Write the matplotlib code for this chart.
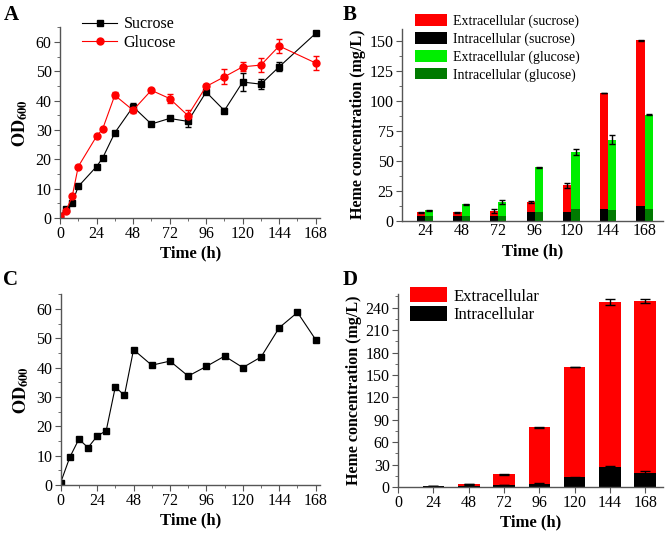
import numpy as np
import matplotlib.pyplot as plt
from matplotlib.ticker import MultipleLocator

plt.rcParams['font.family'] = ['Liberation Serif', 'DejaVu Serif']
plt.rcParams['mathtext.fontset'] = 'stix'
plt.rcParams['font.size'] = 11.5

# panel A: OD600, sucrose vs glucose
t_a = [0, 4, 8, 12, 24, 28, 36, 48, 60, 72, 84, 96, 108, 120, 132, 144, 168]
od_suc = [0.5, 3.1, 5.1, 10.7, 17.5, 20.4, 29.0, 37.9, 32.0, 33.9, 32.9, 42.9, 36.6, 46.3, 45.6, 51.5, 62.9]
od_suc_err = [0, 0.5, 0.5, 0.5, 0.5, 0.5, 0.5, 1.2, 0.8, 0.6, 2.0, 0.6, 0.8, 3.0, 1.8, 1.5, 0.5]
od_glc = [0.5, 2.5, 7.3, 17.5, 27.8, 30.3, 41.8, 36.7, 43.5, 40.7, 34.9, 44.8, 48.1, 51.5, 52.1, 58.6, 52.8]
od_glc_err = [0, 0.3, 0.5, 0.5, 0.5, 0.5, 1.0, 0.8, 0.5, 1.5, 2.0, 1.0, 2.5, 1.5, 2.5, 2.3, 2.5]

# panel B: heme, sucrose vs glucose
t_b = [24, 48, 72, 96, 120, 144, 168]
suc_total = [7.0, 7.0, 8.0, 15.5, 29.5, 106.5, 150.5]
suc_total_err = [0.5, 0.5, 1.5, 0.5, 2.0, 0.3, 0.5]
suc_intra = [3.5, 3.5, 3.5, 7.0, 7.0, 10.0, 12.0]
glc_total = [8.5, 13.5, 15.5, 44.5, 57.0, 67.5, 88.5]
glc_total_err = [0.5, 0.5, 1.8, 0.5, 2.5, 4.0, 0.5]
glc_intra = [3.5, 3.5, 3.5, 7.5, 9.5, 8.5, 10.0]

# panel C: OD600
t_c = [0, 6, 12, 18, 24, 30, 36, 42, 48, 60, 72, 84, 96, 108, 120, 132, 144, 156, 168]
od_c = [0.8, 9.4, 15.6, 12.7, 16.6, 18.5, 33.4, 30.5, 46.1, 40.8, 42.2, 37.1, 40.4, 43.9, 40.0, 43.6, 53.6, 58.8, 49.5]

# panel D: heme
t_d = [24, 48, 72, 96, 120, 144, 168]
d_total = [1.5, 4.0, 17.0, 80.0, 160.5, 248.0, 248.5]
d_total_err = [0.3, 0.5, 0.5, 0.8, 0.5, 4.0, 2.5]
d_intra = [0.8, 2.0, 3.0, 4.5, 13.0, 26.5, 19.0]
d_intra_err = [0.2, 0.3, 0.3, 0.5, 1.0, 2.0, 2.0]

red = '#ff0000'
green = '#00ee00'
dgreen = '#007a00'
spine_col = '#555555'

fig = plt.figure(figsize=(6.69, 5.34), dpi=100)
axA = fig.add_axes([0.0897, 0.592, 0.389, 0.357])
axB = fig.add_axes([0.601, 0.587, 0.390, 0.359])
axC = fig.add_axes([0.0907, 0.092, 0.388, 0.357])
axD = fig.add_axes([0.595, 0.088, 0.396, 0.361])


def style(ax):
    for s in ['top', 'right']:
        ax.spines[s].set_visible(False)
    for s in ['left', 'bottom']:
        ax.spines[s].set_color(spine_col)
        ax.spines[s].set_linewidth(1.0)
    ax.tick_params(which='both', direction='out', color=spine_col, labelsize=11.5, pad=2)
    ax.tick_params(which='major', length=4)
    ax.tick_params(which='minor', length=2)


# A
style(axA)
axA.errorbar(t_a, od_suc, yerr=od_suc_err, color='black', fmt='none', capsize=2.5, elinewidth=1)
axA.errorbar(t_a, od_glc, yerr=od_glc_err, color=red, fmt='none', capsize=2.5, elinewidth=1)
axA.plot(t_a, od_suc, color='black', marker='s', ms=4.5, lw=0.8, label='Sucrose')
axA.plot(t_a, od_glc, color=red, marker='o', ms=5, lw=0.8, label='Glucose')
axA.set_xlim(0, 171)
axA.set_ylim(0, 65)
axA.xaxis.set_major_locator(MultipleLocator(24))
axA.xaxis.set_minor_locator(MultipleLocator(12))
axA.yaxis.set_major_locator(MultipleLocator(10))
axA.yaxis.set_minor_locator(MultipleLocator(5))
axA.set_xlabel('Time (h)', fontweight='bold', fontsize=12, labelpad=2)
axA.set_ylabel(r'$\mathbf{OD_{600}}$', fontsize=13, labelpad=4)
axA.legend(loc='upper left', bbox_to_anchor=(0.06, 1.09), frameon=False, fontsize=11.5,
           handlelength=2.2, borderaxespad=0, labelspacing=0.15, handletextpad=0.4)

# B
style(axB)
w = 5.4
xs = np.array(t_b) - w / 2
xg = np.array(t_b) + w / 2
axB.bar(xs, suc_total, width=w, color=red, yerr=suc_total_err, capsize=2,
        error_kw=dict(elinewidth=1, capthick=1), label='Extracellular (sucrose)')
axB.bar(xs, suc_intra, width=w, color='black', label='Intracellular (sucrose)')
axB.bar(xg, glc_total, width=w, color=green, yerr=glc_total_err, capsize=2,
        error_kw=dict(elinewidth=1, capthick=1), label='Extracellular (glucose)')
axB.bar(xg, glc_intra, width=w, color=dgreen, label='Intracellular (glucose)')
axB.set_xlim(9, 180)
axB.set_ylim(0, 160)
axB.set_xticks(t_b)
axB.tick_params(axis='x', length=0)
axB.yaxis.set_major_locator(MultipleLocator(25))
axB.yaxis.set_minor_locator(MultipleLocator(12.5))
axB.set_xlabel('Time (h)', fontweight='bold', fontsize=12, labelpad=3)
axB.set_ylabel('Heme concentration (mg/L)', fontweight='bold', fontsize=11.5, labelpad=3)
axB.legend(loc='upper left', bbox_to_anchor=(0.03, 1.105), frameon=False, fontsize=10,
           handlelength=2.3, handleheight=0.9, borderaxespad=0, labelspacing=0.3,
           handletextpad=0.4)

# C
style(axC)
axC.plot(t_c, od_c, color='black', marker='s', ms=4.5, lw=0.8)
axC.set_xlim(0, 171)
axC.set_ylim(0, 65)
axC.xaxis.set_major_locator(MultipleLocator(24))
axC.xaxis.set_minor_locator(MultipleLocator(12))
axC.yaxis.set_major_locator(MultipleLocator(10))
axC.yaxis.set_minor_locator(MultipleLocator(5))
axC.set_xlabel('Time (h)', fontweight='bold', fontsize=12, labelpad=2)
axC.set_ylabel(r'$\mathbf{OD_{600}}$', fontsize=13, labelpad=4)

# D
style(axD)
wd = 14.7
axD.bar(t_d, d_total, width=wd, color=red, yerr=d_total_err, capsize=3.5,
        error_kw=dict(elinewidth=1, capthick=1), label='Extracellular')
axD.bar(t_d, d_intra, width=wd, color='black', yerr=d_intra_err, capsize=3.5,
        error_kw=dict(elinewidth=1, capthick=1), label='Intracellular')
axD.set_xlim(0, 180)
axD.set_ylim(0, 258)
axD.set_xticks([0] + t_d)
axD.yaxis.set_major_locator(MultipleLocator(30))
axD.yaxis.set_minor_locator(MultipleLocator(15))
axD.set_xlabel('Time (h)', fontweight='bold', fontsize=12, labelpad=2)
axD.set_ylabel('Heme concentration (mg/L)', fontweight='bold', fontsize=11.5, labelpad=3)
axD.legend(loc='upper left', bbox_to_anchor=(0.02, 1.07), frameon=False, fontsize=12,
           handlelength=2.2, handleheight=1.0, borderaxespad=0, labelspacing=0.1,
           handletextpad=0.4)

# panel letters
for lab, x, y in [('A', 0.005, 0.962), ('B', 0.512, 0.962), ('C', 0.005, 0.467), ('D', 0.512, 0.467)]:
    fig.text(x, y, lab, fontsize=15, fontweight='bold')

fig.savefig('out.png', dpi=100)
